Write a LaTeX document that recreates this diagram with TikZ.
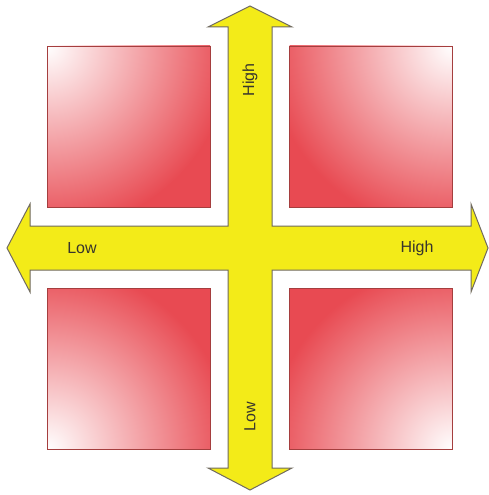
\documentclass[tikz,border=0pt]{standalone}
\usepackage{fontspec}
\setmainfont{Liberation Sans}
\definecolor{sqred}{RGB}{232,74,82}
\definecolor{sqborder}{RGB}{165,62,62}
\definecolor{crossyellow}{RGB}{243,235,24}
\definecolor{crossline}{RGB}{112,106,96}
\definecolor{labeltext}{RGB}{55,53,45}
\begin{document}
\begin{tikzpicture}[x=1pt,y=-1pt,
  quad/.style={draw=sqborder, fill=sqred, line width=0.8pt, inner sep=0pt,
    minimum width=163pt, minimum height=161pt},
  axislabel/.style={text=labeltext, font=\fontsize{16}{18}\selectfont, inner sep=0pt, anchor=center}]
\useasboundingbox[fill=white] (0,0) rectangle (489,495);
% quadrants
\node[quad, path picture={\shade[inner color=white, outer color=sqred] (path picture bounding box.north west) circle (185pt);}] (tl) at (128.5,126.5) {};
\node[quad, path picture={\shade[inner color=white, outer color=sqred] (path picture bounding box.north east) circle (185pt);}] (tr) at (371,126.5) {};
\node[quad, path picture={\shade[inner color=white, outer color=sqred] (path picture bounding box.south west) circle (185pt);}] (bl) at (128.5,369) {};
\node[quad, path picture={\shade[inner color=white, outer color=sqred] (path picture bounding box.south east) circle (185pt);}] (br) at (371,369) {};
% cross with four arrowheads
\draw[fill=crossyellow, draw=crossline, line width=1pt, line join=miter]
  (250,6) -- (292,27) -- (272,27) -- (272,226) -- (471,226) -- (471,204) -- (488,248)
  -- (471,292) -- (471,270) -- (272,270) -- (272,468) -- (292,468) -- (250,490)
  -- (208,468) -- (228,468) -- (228,270) -- (30,270) -- (30,292) -- (7,248)
  -- (30,204) -- (30,226) -- (228,226) -- (228,27) -- (208,27) -- cycle;
% labels
\node[axislabel] (xlow) at (82,248) {Low};
\node[axislabel] (xhigh) at (417,248) {High};
\node[axislabel, rotate=90] (yhigh) at (250,80) {High};
\node[axislabel, rotate=90] (ylow) at (250,417) {Low};
\end{tikzpicture}
\end{document}
